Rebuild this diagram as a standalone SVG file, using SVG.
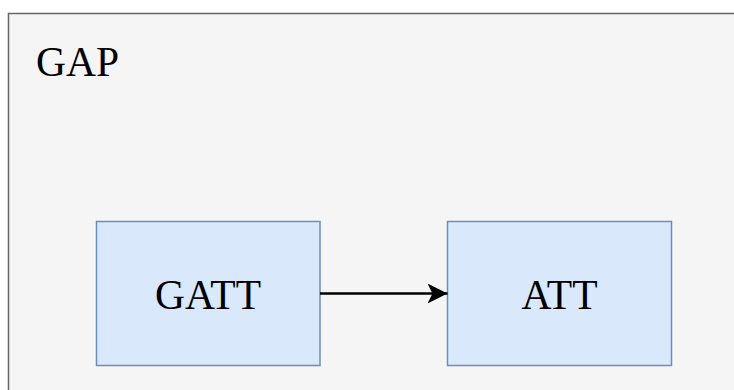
<svg xmlns="http://www.w3.org/2000/svg" width="734" height="390" viewBox="0 0 734 390">
  <style>
    text { font-family: "Liberation Serif", "Times New Roman", "DejaVu Serif", serif; font-size: 41.5px; fill: #000; }
    .box { fill: #dae8fc; stroke: #6c8ebf; stroke-width: 1.5; }
    .edge { fill: none; stroke: #000; stroke-width: 2.6; }
  </style>
  <defs>
    <marker id="arrow" viewBox="0 0 20 20" refX="20" refY="10" markerWidth="20" markerHeight="20" markerUnits="userSpaceOnUse" orient="auto">
      <path d="M0,0 L20,10 L0,20 L5,10 Z" fill="#000"/>
    </marker>
  </defs>
  <rect width="734" height="390" fill="#ffffff"/>
  <!-- outer GAP container, running past the right and bottom edges -->
  <g id="gap">
    <rect x="8.5" y="13.5" width="740" height="400" fill="#f5f5f5" stroke="#666666" stroke-width="1.5"/>
    <text x="36" y="75.5">GAP</text>
  </g>
  <g id="gatt">
    <rect class="box" x="96.5" y="221.5" width="223.5" height="144"/>
    <text x="208" y="308.5" text-anchor="middle">GATT</text>
  </g>
  <g id="att">
    <rect class="box" x="447.5" y="221.5" width="224" height="144"/>
    <text x="559.5" y="308.5" text-anchor="middle">ATT</text>
  </g>
  <g id="connectors">
    <path class="edge" d="M320,293.5 L447.5,293.5" marker-end="url(#arrow)"/>
  </g>
</svg>
